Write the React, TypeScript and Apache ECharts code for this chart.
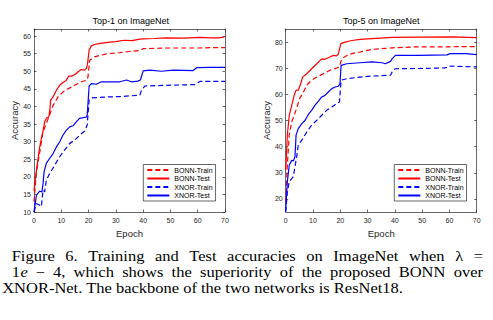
import React, { useEffect, useRef } from "react";
import * as echarts from "echarts";

// ---------------- data ----------------
const SERIES_NAMES = ["BONN-Train", "BONN-Test", "XNOR-Train", "XNOR-Test"];
const EPOCH_TICKS = [0, 10, 20, 30, 40, 50, 60, 70];
const TOP1_TICKS = [10, 15, 20, 25, 30, 35, 40, 45, 50, 55, 60];
const TOP5_TICKS = [20, 30, 40, 50, 60, 70, 80];

// Top-1
const top1BonnTestEp = [0, 0.5, 1, 1.5, 2, 2.7, 3.3, 3.9, 4.5, 5.4, 5.8, 6.1, 7, 8.2, 9.4, 10.6, 11.8, 12.7, 13.7, 14.9, 16.1, 17.3, 18.6, 19.2, 19.6, 20.2, 21, 22.2, 24.2, 27, 30, 33, 36, 38.8, 40, 44, 48.6, 55, 60.8, 65, 67.5, 69, 70];
const top1BonnTestVal = [16, 19.5, 22.5, 25.2, 28, 30.9, 33, 35.6, 36.6, 37, 39, 41.8, 42.7, 44.6, 46, 46.8, 47.4, 48.6, 48.6, 49, 49.8, 50.5, 50.3, 50.8, 52, 56, 57.2, 57.6, 57.9, 58.2, 58.4, 58.8, 58.7, 59.1, 59.2, 59.3, 59.5, 59.4, 59.6, 59.5, 59.5, 59.6, 59.9];
const top1BonnTrainEp = [0, 0.9, 2.1, 3.3, 4.5, 5.7, 7, 8.8, 10.6, 12.5, 14.9, 17.3, 19.5, 19.8, 20.4, 22.2, 24.2, 27.1, 31.5, 35, 38.8, 40, 44, 48.6, 55, 60.8, 65, 70];
const top1BonnTrainVal = [13, 21.4, 27, 32.8, 35.1, 37.5, 40.3, 42.7, 44.1, 45, 46, 47, 47.5, 48.5, 53.1, 54.1, 54.5, 55, 55.3, 55.6, 55.9, 56.4, 56.5, 56.6, 56.6, 56.6, 56.7, 56.7];
const top1XnorTestEp = [0, 0.9, 2.1, 2.9, 3.3, 3.7, 4.5, 5.7, 7, 8.2, 9.4, 10.6, 11.8, 13.1, 14.3, 15.5, 16.7, 18, 19.2, 19.5, 20.2, 21, 22.8, 24.7, 27.1, 31.5, 33.9, 35.7, 38.1, 39, 40, 42.4, 46.7, 51, 58.3, 59.6, 65, 70];
const top1XnorTestVal = [10, 14.8, 15.9, 15.7, 18, 21.4, 23.8, 25.2, 26.6, 28.5, 29.9, 31.8, 33.2, 34.2, 34.5, 35.6, 36.6, 36.8, 37, 37.5, 45.8, 46.5, 46.3, 47, 47, 47, 47.5, 47, 47.2, 47.5, 50.1, 50.3, 50, 50.3, 50.2, 51, 51.1, 51.1];
const top1XnorTrainEp = [0, 0.9, 2.1, 2.7, 3.3, 3.9, 4.5, 5.7, 7.6, 9.4, 11.2, 13.1, 14.9, 16.7, 18.6, 19.5, 20.2, 21, 27.1, 31.5, 38.8, 39.4, 40.6, 48.6, 59, 60.8, 70];
const top1XnorTrainVal = [10, 12.4, 11.9, 11.5, 16.2, 15.7, 19, 20.9, 23.3, 25.7, 27.6, 29.5, 30.4, 31.8, 33, 34.7, 41.8, 42.4, 42.7, 42.8, 43.2, 44.6, 45.8, 46, 46.2, 47.1, 47.1];

// Top-5
const top5BonnTestEp = [0, 0.6, 1.3, 2.2, 3.1, 3.8, 4.6, 5.3, 6.2, 7.7, 9.5, 11.4, 13.2, 14.4, 16.2, 17.5, 18.7, 19.3, 20.2, 21.7, 24.3, 27.2, 31.6, 39, 48.7, 60.9, 70];
const top5BonnTestVal = [31, 44.4, 52, 55.8, 59.6, 61.6, 61.6, 63.5, 66.6, 67.9, 69.8, 71.7, 73.6, 73.4, 74.3, 74.9, 74.7, 75.5, 79.4, 80, 80.6, 81, 81.3, 81.8, 81.9, 82, 81.7];
const top5BonnTrainEp = [0, 0.6, 1.3, 2.2, 3.1, 4, 5, 6.5, 7.7, 9.5, 11.4, 13.8, 16.2, 18.7, 19.7, 20.5, 22.4, 24.3, 27.2, 31.6, 39, 48.7, 60, 70];
const top5BonnTrainVal = [19, 32.9, 44.4, 49.5, 52, 54.6, 58.1, 60.9, 63.5, 65.4, 66.6, 67.9, 69.2, 70.1, 70.5, 73.6, 74.9, 75.6, 76.2, 77.2, 77.8, 78.2, 78.2, 78.3];
const top5XnorTestEp = [0, 0.6, 1.3, 2.2, 2.8, 3.4, 3.8, 4.6, 5.9, 7.1, 8.3, 9.5, 10.7, 12, 13.2, 14.4, 15.6, 16.9, 18.1, 19.3, 19.9, 20.3, 22.4, 27.2, 31.6, 35.3, 36.5, 38.4, 39, 40.2, 48.7, 59.1, 60.3, 66, 70];
const top5XnorTestVal = [15.5, 26.6, 32.9, 34.8, 34.5, 36.1, 44.4, 46.9, 48.8, 50.1, 52.3, 53.9, 55.8, 57.4, 59, 59.6, 60.9, 62.2, 62.8, 63.1, 64.1, 71.1, 71.7, 72.1, 72.4, 72.1, 71.7, 72.6, 73.6, 74.9, 74.9, 75.1, 75.6, 75.6, 75.2];
const top5XnorTrainEp = [0, 0.6, 1.3, 2.2, 2.8, 3.4, 4, 4.6, 5.9, 7.7, 9.5, 11.4, 13.2, 15, 16.9, 18.7, 19.7, 20.3, 22.4, 27.2, 31.6, 38.4, 39.3, 40.2, 48.7, 58.4, 60.3, 70];
const top5XnorTrainVal = [15, 22.7, 26.6, 27.8, 28.5, 32.3, 36.1, 40.6, 42.5, 45.6, 48.2, 50.1, 52, 53.9, 55.2, 56.5, 57.1, 65.4, 66, 66.6, 67, 67.3, 69.2, 69.8, 69.9, 70.1, 70.8, 70.5];

// Texts
const TITLE_LEFT = "Top-1 on ImageNet";
const TITLE_RIGHT = "Top-5 on ImageNet";
const X_NAME = "Epoch";
const Y_NAME = "Accuracy";

type Part = { t: string; it?: boolean };
const CAPTION_LINE1 = ["Figure", "6.", "Training", "and", "Test", "accuracies", "on", "ImageNet", "when", "λ", "="];
const CAPTION_LINE2: Part[][] = [
  [{ t: "1" }, { t: "e", it: true }],
  [{ t: "−" }],
  [{ t: "4," }],
  ...["which", "shows", "the", "superiority", "of", "the", "proposed", "BONN", "over"].map((w) => [{ t: w }]),
];
const CAPTION_LINE3 = "XNOR-Net. The backbone of the two networks is ResNet18.";

// ---------------- layout / style ----------------
const W = 493;
const H = 320;
const SANS = "'Liberation Sans', Arial, Helvetica, sans-serif";
const SERIF = "'Liberation Serif', 'Times New Roman', serif";
const AX = "#262626";
const RED = "#ff0000";
const BLUE = "#0000ff";
const DASH = [5, 3];
const CAP_SIZE = 16.5;
const CAP_SCALE_Y = 0.86;

function zip(ep: number[], v: number[]) {
  return ep.map((e, i) => [e, v[i]]);
}

function makeAxes(gridIndex: number, min: number, max: number, ticks: number[], kind: "x" | "y", withName: boolean) {
  const base = (position: string, showLabel: boolean) => ({
    gridIndex,
    type: "value",
    position,
    min,
    max,
    axisLine: { show: true, onZero: false, lineStyle: { color: AX, width: 0.7 } },
    axisTick: { show: true, inside: true, length: 2.5, customValues: ticks, lineStyle: { color: AX, width: 0.7 } },
    axisLabel: {
      show: showLabel,
      customValues: ticks,
      fontSize: 7,
      color: AX,
      fontFamily: SANS,
      margin: kind === "x" ? 5 : 3,
    },
    splitLine: { show: false },
  });
  if (kind === "x") {
    const bottom: any = base("bottom", true);
    if (withName) {
      bottom.name = X_NAME;
      bottom.nameLocation = "middle";
      bottom.nameGap = 14;
      bottom.nameTextStyle = { fontSize: 9.5, color: AX, fontFamily: SANS };
    }
    return [bottom, base("top", false)];
  }
  const left: any = base("left", true);
  if (withName) {
    left.name = Y_NAME;
    left.nameLocation = "middle";
    left.nameGap = 14;
    left.nameTextStyle = { fontSize: 9.5, color: AX, fontFamily: SANS };
  }
  return [left, base("right", false)];
}

function lineSeries(name: string, data: number[][], color: string, dashed: boolean, xi: number, yi: number) {
  return {
    name,
    type: "line",
    xAxisIndex: xi,
    yAxisIndex: yi,
    data,
    symbol: "none",
    showSymbol: false,
    smooth: false,
    lineStyle: { color, width: 1.2, type: dashed ? DASH : "solid" },
    itemStyle: { color },
    z: 3,
  };
}

function legendAt(left: number) {
  return {
    orient: "vertical",
    left,
    top: 164.5,
    data: SERIES_NAMES,
    itemWidth: 22,
    itemHeight: 8,
    itemGap: 1.5,
    padding: [2, 3, 2, 3],
    borderColor: AX,
    borderWidth: 0.7,
    borderRadius: 0,
    backgroundColor: "#ffffff",
    selectedMode: false,
    z: 10,
    itemStyle: { opacity: 0 },
    textStyle: { fontSize: 7, color: "#000", fontFamily: SANS, padding: 0 },
  };
}

function buildCaption(): any[] {
  const canvas = document.createElement("canvas");
  const ctx = canvas.getContext("2d")!;
  const font = (it?: boolean) => `${it ? "italic " : ""}${CAP_SIZE}px ${SERIF}`;
  const measure = (p: Part) => {
    ctx.font = font(p.it);
    return ctx.measureText(p.t).width;
  };
  const els: any[] = [];
  const textEl = (t: string, x: number, y: number, it?: boolean) => ({
    type: "text",
    x,
    y,
    scaleY: CAP_SCALE_Y,
    style: {
      text: t,
      fontSize: CAP_SIZE,
      fontFamily: SERIF,
      fontStyle: it ? "italic" : "normal",
      lineHeight: 15,
      fill: "#000",
      textAlign: "left",
      textVerticalAlign: "middle",
    },
  });
  const justify = (tokens: Part[][], x0: number, x1: number, y: number) => {
    const widths = tokens.map((tk) => tk.reduce((s, p) => s + measure(p), 0));
    const total = widths.reduce((a, b) => a + b, 0);
    const gap = (x1 - x0 - total) / (tokens.length - 1);
    let x = x0;
    tokens.forEach((tk, i) => {
      let px = x;
      tk.forEach((p, j) => {
        els.push(textEl(p.t, px + (j > 0 ? 0.6 : 0), y, p.it));
        px += measure(p);
      });
      x += widths[i] + gap;
    });
  };
  justify(CAPTION_LINE1.map((w) => [{ t: w }]), 11.7, 483, 256.3);
  justify(CAPTION_LINE2, 11.7, 483, 272.3);
  els.push(textEl(CAPTION_LINE3, 2.2, 288.3));
  return els;
}

export default function App() {
  const ref = useRef<HTMLDivElement>(null);
  useEffect(() => {
    if (!ref.current) return;
    const chart = echarts.init(ref.current, undefined, { renderer: "svg" });
    const grids = [
      { left: 34, top: 29, width: 191, height: 183 },
      { left: 285.7, top: 29, width: 191, height: 183 },
    ];
    const xAxis = [
      ...makeAxes(0, 0, 70, EPOCH_TICKS, "x", true),
      ...makeAxes(1, 0, 70, EPOCH_TICKS, "x", true),
    ];
    const yAxis = [
      ...makeAxes(0, 10, 62, TOP1_TICKS, "y", true),
      ...makeAxes(1, 15, 85, TOP5_TICKS, "y", true),
    ];
    const series = [
      lineSeries("BONN-Train", zip(top1BonnTrainEp, top1BonnTrainVal), RED, true, 0, 0),
      lineSeries("BONN-Test", zip(top1BonnTestEp, top1BonnTestVal), RED, false, 0, 0),
      lineSeries("XNOR-Train", zip(top1XnorTrainEp, top1XnorTrainVal), BLUE, true, 0, 0),
      lineSeries("XNOR-Test", zip(top1XnorTestEp, top1XnorTestVal), BLUE, false, 0, 0),
      lineSeries("BONN-Train", zip(top5BonnTrainEp, top5BonnTrainVal), RED, true, 2, 2),
      lineSeries("BONN-Test", zip(top5BonnTestEp, top5BonnTestVal), RED, false, 2, 2),
      lineSeries("XNOR-Train", zip(top5XnorTrainEp, top5XnorTrainVal), BLUE, true, 2, 2),
      lineSeries("XNOR-Test", zip(top5XnorTestEp, top5XnorTestVal), BLUE, false, 2, 2),
    ];
    const titleEl = (t: string, x: number) => ({
      type: "text",
      x,
      y: 21,
      style: {
        text: t,
        fontSize: 9,
        fontFamily: SANS,
        fill: "#000",
        textAlign: "center",
        textVerticalAlign: "middle",
      },
    });
    chart.setOption({
      animation: false,
      backgroundColor: "#ffffff",
      grid: grids,
      xAxis,
      yAxis,
      legend: [legendAt(143.3), legendAt(394.3)],
      series,
      graphic: [titleEl(TITLE_LEFT, 130.8), titleEl(TITLE_RIGHT, 381.3), ...buildCaption()],
    });
    return () => chart.dispose();
  }, []);
  return (
    <div
      ref={ref}
      style={{ position: "absolute", left: 0, top: 0, width: W, height: H, background: "#fff" }}
    />
  );
}
